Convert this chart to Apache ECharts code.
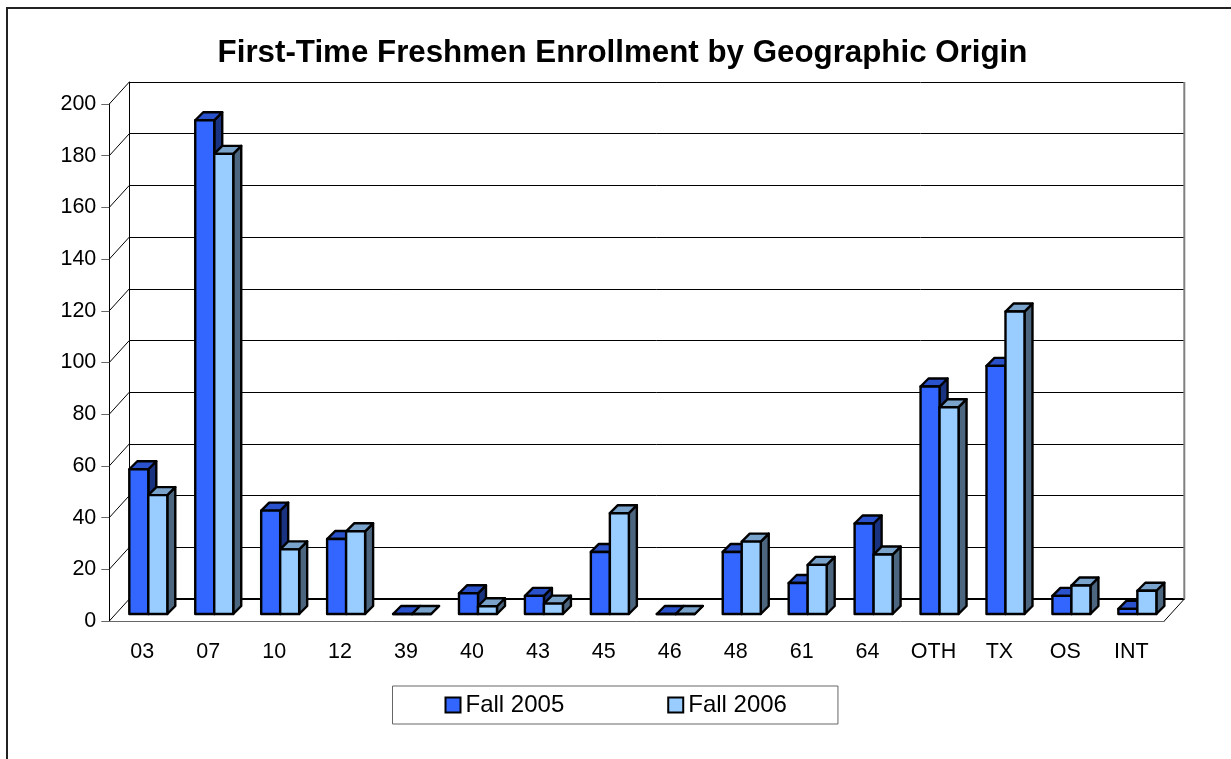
<!DOCTYPE html>
<html>
<head>
<meta charset="utf-8">
<title>First-Time Freshmen Enrollment by Geographic Origin</title>
<script src="https://cdn.jsdelivr.net/npm/echarts@6/dist/echarts.min.js"></script>
<style>
  html, body { margin: 0; padding: 0; background: #fff; }
  #chart { width: 1231px; height: 759px; }
</style>
</head>
<body>
<div id="chart"></div>
<script>
  const categories = ['03', '07', '10', '12', '39', '40', '43', '45', '46', '48', '61', '64', 'OTH', 'TX', 'OS', 'INT']
  const fall2005 = [56, 191, 40, 29, 0, 8, 7, 24, 0, 24, 12, 35, 88, 96, 7, 2]
  const fall2006 = [46, 178, 25, 32, 0, 3, 4, 39, 0, 28, 19, 23, 80, 117, 11, 9]
  const yTicks = [0, 20, 40, 60, 80, 100, 120, 140, 160, 180, 200]

  const fontName = '"Liberation Sans", Arial, sans-serif'
  // 墙面相对前轴的偏移
  const wallDx = 20
  const wallDy = 22
  // 柱子相对前轴的偏移和柱子自身的厚度
  const barLead = 20
  const barLift = 7
  const barDepth = 8
  const barShare = 19 / 65.94

  const colors2005 = { front: '#3366ff', top: '#2952cc', side: '#1a3380' }
  const colors2006 = { front: '#99ccff', top: '#7aa3cc', side: '#4d6680' }

  function barRenderer(slot, palette) {
    return function (params, api) {
      const band = api.size([1, 0])[0]
      const w = band * barShare
      const topPt = api.coord([api.value(0), api.value(1)])
      const basePt = api.coord([api.value(0), 0])
      const x0 = basePt[0] - band / 2 + barLead + slot * w
      const x1 = x0 + w
      const y0 = topPt[1] - barLift
      const y1 = basePt[1] - barLift
      const line = { stroke: '#000', lineWidth: 2.4, lineJoin: 'round' }
      return {
        type: 'group',
        children: [
          {
            type: 'polygon',
            shape: { points: [[x1, y0], [x1 + barDepth, y0 - barDepth], [x1 + barDepth, y1 - barDepth], [x1, y1]] },
            style: Object.assign({ fill: palette.side }, line)
          },
          {
            type: 'polygon',
            shape: { points: [[x0, y0], [x0 + barDepth, y0 - barDepth], [x1 + barDepth, y0 - barDepth], [x1, y0]] },
            style: Object.assign({ fill: palette.top }, line)
          },
          {
            type: 'polygon',
            shape: { points: [[x0, y0], [x1, y0], [x1, y1], [x0, y1]] },
            style: Object.assign({ fill: palette.front }, line)
          }
        ]
      }
    }
  }

  // 左墙上的斜线，每个刻度一条
  function sideWallRenderer(params, api) {
    const p = api.coord([0, api.value(1)])
    const x = params.coordSys.x
    return {
      type: 'line',
      shape: { x1: x, y1: p[1], x2: x + wallDx, y2: p[1] - wallDy },
      style: { stroke: '#000', lineWidth: 1 }
    }
  }

  // 地板和右墙
  function floorRenderer(params, api) {
    const cs = params.coordSys
    const y = api.coord([0, 0])[1]
    const right = cs.x + cs.width
    return {
      type: 'group',
      children: [
        {
          type: 'line',
          shape: { x1: cs.x + wallDx, y1: y - wallDy, x2: right + wallDx, y2: y - wallDy },
          style: { stroke: '#000', lineWidth: 2 }
        },
        {
          type: 'line',
          shape: { x1: right, y1: y, x2: right + wallDx, y2: y - wallDy },
          style: { stroke: '#000', lineWidth: 1 }
        },
        {
          type: 'line',
          shape: { x1: right + wallDx, y1: cs.y - wallDy, x2: right + wallDx, y2: y - wallDy },
          style: { stroke: '#808080', lineWidth: 2 }
        }
      ]
    }
  }

  const gridFront = { left: 109.3, top: 104, width: 1055, height: 517 }
  const gridBack = { left: 109.3 + wallDx, top: 104 - wallDy, width: 1055, height: 517 }

  const myChart = echarts.init(document.getElementById('chart'), null, { renderer: 'canvas' })
  myChart.setOption({
    animation: false,
    backgroundColor: '#fff',
    tooltip: { show: false },
    title: {
      text: 'First-Time Freshmen Enrollment by Geographic Origin',
      left: 617.5,
      top: 33,
      textAlign: 'center',
      textStyle: { fontFamily: fontName, fontSize: 31.3, fontWeight: 'bold', color: '#000' }
    },
    legend: {
      left: 392.5,
      top: 686,
      padding: [7, 51, 7, 52],
      itemGap: 103,
      itemWidth: 15,
      itemHeight: 15,
      icon: 'rect',
      borderColor: '#666',
      borderWidth: 1,
      backgroundColor: '#fff',
      selectedMode: false,
      textStyle: { fontFamily: fontName, fontSize: 24, color: '#000' },
      data: [
        { name: 'Fall 2005', itemStyle: { color: colors2005.front, borderColor: '#000', borderWidth: 2 } },
        { name: 'Fall 2006', itemStyle: { color: colors2006.front, borderColor: '#000', borderWidth: 2 } }
      ]
    },
    graphic: [
      {
        type: 'polyline',
        silent: true,
        shape: { points: [[7, 759], [7, 8], [1231, 8]] },
        style: { stroke: '#222', lineWidth: 2, fill: null }
      }
    ],
    grid: [gridFront, gridBack],
    xAxis: [
      {
        type: 'category',
        gridIndex: 0,
        data: categories,
        axisLine: { lineStyle: { color: '#666', width: 1 } },
        axisTick: { length: 8, lineStyle: { color: '#666' } },
        axisLabel: { interval: 0, margin: 20, fontFamily: fontName, fontSize: 21.5, color: '#000' }
      },
      { type: 'category', gridIndex: 1, data: categories, show: false }
    ],
    yAxis: [
      {
        type: 'value',
        gridIndex: 0,
        min: 0,
        max: 200,
        interval: 20,
        splitLine: { show: false },
        axisLine: { show: true, lineStyle: { color: '#000', width: 1 } },
        axisTick: { show: true, length: 8, lineStyle: { color: '#666' } },
        axisLabel: { margin: 13, fontFamily: fontName, fontSize: 21.5, color: '#000' }
      },
      {
        type: 'value',
        gridIndex: 1,
        min: 0,
        max: 200,
        interval: 20,
        axisLabel: { show: false },
        axisTick: { show: false },
        axisLine: { show: true, lineStyle: { color: '#000', width: 1 } },
        splitLine: { show: true, lineStyle: { color: '#000', width: 1 } }
      }
    ],
    series: [
      {
        type: 'custom',
        name: 'side wall',
        xAxisIndex: 0,
        yAxisIndex: 0,
        z: 1,
        silent: true,
        clip: false,
        renderItem: sideWallRenderer,
        encode: { x: 0, y: 1 },
        data: yTicks.map(v => [0, v])
      },
      {
        type: 'custom',
        name: 'floor',
        xAxisIndex: 0,
        yAxisIndex: 0,
        z: 1,
        silent: true,
        clip: false,
        renderItem: floorRenderer,
        encode: { x: 0, y: 1 },
        data: [[0, 0]]
      },
      {
        type: 'custom',
        name: 'Fall 2005',
        xAxisIndex: 0,
        yAxisIndex: 0,
        z: 3,
        clip: false,
        itemStyle: { color: colors2005.front },
        renderItem: barRenderer(0, colors2005),
        encode: { x: 0, y: 1 },
        data: fall2005.map((v, i) => [i, v])
      },
      {
        type: 'custom',
        name: 'Fall 2006',
        xAxisIndex: 0,
        yAxisIndex: 0,
        z: 4,
        clip: false,
        itemStyle: { color: colors2006.front },
        renderItem: barRenderer(1, colors2006),
        encode: { x: 0, y: 1 },
        data: fall2006.map((v, i) => [i, v])
      }
    ]
  })
</script>
</body>
</html>
